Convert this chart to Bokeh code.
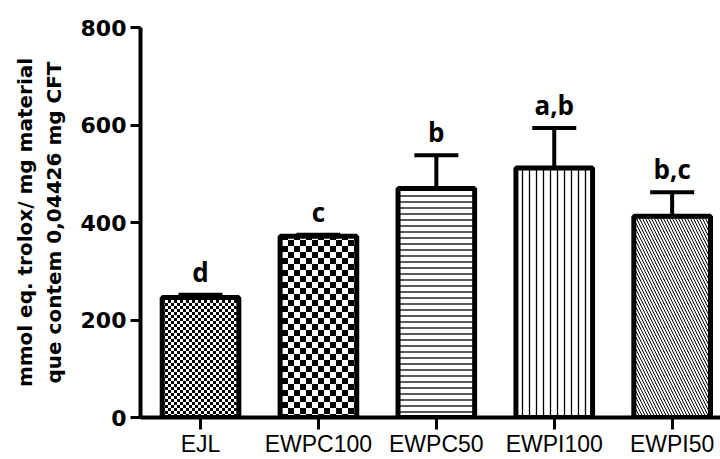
import zlib, struct, base64
from bokeh.plotting import figure
from bokeh.models import Range1d, FixedTicker, ColumnDataSource, Whisker, TeeHead, ImageURLTexture
from bokeh.core.properties import value
from bokeh.embed import file_html
from bokeh.resources import INLINE

# ---- data ----
categories = ["EJL", "EWPC100", "EWPC50", "EWPI100", "EWPI50"]
means = [246, 372, 470, 512, 413]
errors = [6, 3, 68, 82, 49]
letters = ["d", "c", "b", "a,b", "b,c"]
y_ticks = [0, 200, 400, 600, 800]


# ---- styles ----
def checker_png(cell):
    n = cell * 2
    raw = b""
    for yy in range(n):
        raw += b"\x00"
        for xx in range(n):
            dark = ((xx // cell) + (yy // cell)) % 2 == 0
            raw += b"\x00\x00\x00" if dark else b"\xff\xff\xff"

    def chunk(t, d):
        return struct.pack(">I", len(d)) + t + d + struct.pack(">I", zlib.crc32(t + d) & 0xffffffff)

    png = (b"\x89PNG\r\n\x1a\n"
           + chunk(b"IHDR", struct.pack(">IIBBBBB", n, n, 8, 2, 0, 0, 0))
           + chunk(b"IDAT", zlib.compress(raw))
           + chunk(b"IEND", b""))
    return "data:image/png;base64," + base64.b64encode(png).decode()


fine_chk = ImageURLTexture(url=checker_png(3))
coarse_chk = ImageURLTexture(url=checker_png(6))

styles = [
    dict(hatch_pattern=value("chk3"), hatch_scale=6, hatch_weight=1),
    dict(hatch_pattern=value("chk6"), hatch_scale=12, hatch_weight=1),
    dict(hatch_pattern="horizontal_line", hatch_scale=6, hatch_weight=1.3),
    dict(hatch_pattern="vertical_line", hatch_scale=7, hatch_weight=1.3),
    dict(hatch_pattern="left_diagonal_line", hatch_scale=6, hatch_weight=1.0),
]

xs = list(range(len(categories)))
uppers = [m + e for m, e in zip(means, errors)]

p = figure(width=720, height=459,
           x_range=Range1d(-0.509, 4.41), y_range=Range1d(0, 800),
           output_backend="svg", toolbar_location=None,
           min_border_left=140, min_border_right=0,
           min_border_top=27, min_border_bottom=41)
p.outline_line_color = None
p.xgrid.grid_line_color = None
p.ygrid.grid_line_color = None
p.background_fill_color = "white"

# error bars (upper only)
err_src = ColumnDataSource(dict(x=xs, lower=means, upper=uppers))
p.add_layout(Whisker(base="x", lower="lower", upper="upper", source=err_src,
                     dimension="height", line_color="black", line_width=4,
                     upper_head=TeeHead(size=44, line_color="black", line_width=4),
                     lower_head=None, level="underlay"))

for i, (x, m) in enumerate(zip(xs, means)):
    st = styles[i]
    p.vbar(x=[x], top=[m], bottom=0, width=0.65,
           fill_color="white", line_color="black", line_width=5,
           hatch_color="black", hatch_extra={"chk3": fine_chk, "chk6": coarse_chk}, **st)

p.text(x=xs, y=uppers, text=letters, text_align="center",
       text_baseline="alphabetic", y_offset=-23,
       text_font=value("Open Sans"), text_font_style="bold",
       text_font_size="26px", text_color="black")

# axes
p.xaxis.ticker = FixedTicker(ticks=xs)
p.xaxis.major_label_overrides = {i: c for i, c in enumerate(categories)}
p.xaxis.major_label_text_font = "Liberation Sans"
p.xaxis.major_label_text_font_size = "23px"
p.xaxis.major_label_text_color = "black"
p.xaxis.major_label_standoff = 1
p.xaxis.minor_tick_line_color = None

p.yaxis.ticker = FixedTicker(ticks=y_ticks)
p.yaxis.major_label_text_font = "DejaVu Sans"
p.yaxis.major_label_text_font_style = "bold"
p.yaxis.major_label_text_font_size = "22px"
p.yaxis.major_label_text_color = "black"
p.yaxis.major_label_standoff = 4
p.yaxis.minor_tick_line_color = None
p.yaxis.axis_label = "mmol eq. trolox/ mg material\nque contem 0,04426 mg CFT"
p.yaxis.axis_label_text_font = "DejaVu Sans"
p.yaxis.axis_label_text_font_style = "bold"
p.yaxis.axis_label_text_font_size = "20px"
p.yaxis.axis_label_text_color = "black"
p.yaxis.axis_label_standoff = 12

for ax in (p.xaxis, p.yaxis):
    ax.axis_line_width = 4
    ax.axis_line_color = "black"
    ax.major_tick_line_width = 3
    ax.major_tick_line_color = "black"
    ax.major_tick_in = 0
p.xaxis.major_tick_out = 12
p.yaxis.major_tick_out = 10

open("out.html", "w").write(file_html(p, INLINE))
